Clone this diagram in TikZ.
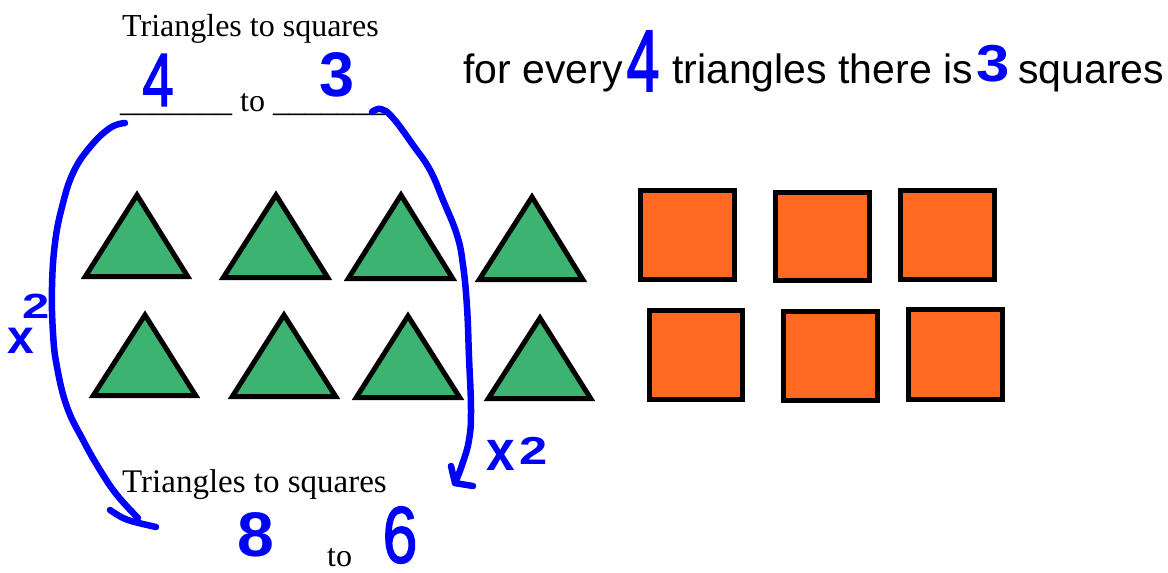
\documentclass[tikz,border=0pt]{standalone}
\usepackage{fontspec}
\setmainfont{Liberation Serif}
\newfontfamily\arialf{Liberation Sans}
\newfontfamily\penf[FakeBold=2]{Liberation Sans}
\definecolor{trigreen}{RGB}{60,179,113}
\definecolor{sqorange}{RGB}{255,105,33}
\definecolor{pen}{RGB}{0,0,255}
\begin{document}
\begin{tikzpicture}[x=1pt,y=-1pt,
  tri/.style={fill=trigreen,draw=black,line width=5pt},
  sqr/.style={fill=sqorange,draw=black,line width=5pt},
  ink/.style={draw=pen,line width=6.5pt,line cap=round,line join=round},
  hand/.style={text=pen,inner sep=0pt,anchor=center},
  serif/.style={inner sep=0pt,anchor=base west,font=\fontsize{32}{38}\selectfont},
  sans/.style={inner sep=0pt,anchor=base west,font=\arialf\fontsize{41}{48}\selectfont},
]
\fill[white] (0,0) rectangle (1168,573);
\useasboundingbox (0,0) rectangle (1168,573);

% triangles: apex x / left / right / top / bottom
\foreach \a/\l/\r/\t/\b in {137/81/192/190/279, 276/219/332/190/280, 401/344/457/190/281, 532/475/587/192/282,
                            145/89/200/310/398, 284/228/340/310/399, 408/352/464/311/400, 540/484/595/313/401}{
  \draw[tri] (\a,{\t+5}) -- ({\r-4.3},{\b-2.5}) -- ({\l+4.3},{\b-2.5}) -- cycle;
}
% squares
\foreach \x/\y/\X/\Y in {638/188/737/282, 773/190/872/283, 898/188/997/282,
                         647/308/745/402, 781/309/880/403, 906/307/1005/402}{
  \draw[sqr] ({\x+2.5},{\y+2.5}) rectangle ({\X-2.5},{\Y-2.5});
}

% printed text
\node[serif] (t1) at (122,36) {Triangles to squares};
\node[serif] (t2) at (120,111) {\_\_\_\_\_\_\_\ to \_\_\_\_\_\_\_};
\node[serif,font=\fontsize{33}{38}\selectfont] (t3) at (122,492) {Triangles to squares};
\node[serif] (t4) at (327,566) {to};
\node[sans] (r1) at (463,83) {for every};
\node[sans] (r2) at (672,83) {triangles there is};
\node[sans] (r3) at (1018,83) {squares};

% handwritten numbers
\node[hand,font=\penf\fontsize{75}{80}\selectfont] (h4a) at (158,80) {\scalebox{0.75}[1]{4}};
\node[hand,font=\arialf\bfseries\fontsize{63}{70}\selectfont] (h3a) at (337,74.5) {3};
\node[hand,font=\penf\fontsize{87}{90}\selectfont] (h4b) at (643,61) {\scalebox{0.68}[1]{4}};
\node[hand,font=\arialf\bfseries\fontsize{52}{60}\selectfont] (h3b) at (993,63.5) {\scalebox{1.15}[1]{3}};
\node[hand,font=\arialf\bfseries\fontsize{63}{70}\selectfont] (h8) at (256,535) {\scalebox{1.05}[1]{8}};
\node[hand,font=\penf\fontsize{80}{90}\selectfont] (h6) at (400,535) {\scalebox{0.78}[1]{6}};
\node[hand,font=\arialf\bfseries\fontsize{57}{60}\selectfont] (hx) at (501,455) {\scalebox{0.9}[1]{x}};
\node[hand,font=\arialf\bfseries\fontsize{39}{45}\selectfont] (h2) at (534,451) {\scalebox{1.3}[1]{2}};
\node[hand,font=\arialf\bfseries\fontsize{48}{50}\selectfont] (lx) at (21,341) {x};
\node[hand,font=\arialf\bfseries\fontsize{35}{40}\selectfont] (l2) at (36,306) {\scalebox{1.4}[1]{2}};

% hand-drawn arrows
\coordinate (ls) at (125,123);
\coordinate (le) at (138,518);
\draw[ink] plot[smooth,tension=0.7] coordinates {(ls) (110,128) (90,147) (73,173) (62,207) (55,243) (52,287) (53,333) (57,367) (67,407) (83,440) (100,470) (117,495) (le)};
\draw[ink] (110,510) .. controls (125,520) .. (156,527);

\coordinate (rs) at (372,112);
\coordinate (re) at (455,483);
\draw[ink] plot[smooth,tension=0.7] coordinates {(rs) (381,109) (393,118) (413,145) (430,170) (443,200) (457,235) (463,265) (467,307) (469,357) (471,410) (469,440) (462,465) (re)};
\draw[ink] (451,466) -- (re) -- (473,486);
\end{tikzpicture}
\end{document}
